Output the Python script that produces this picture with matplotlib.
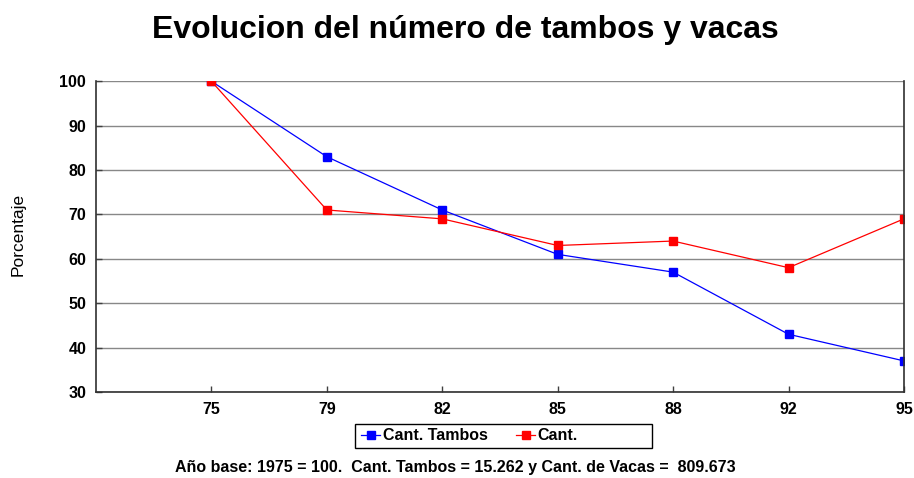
import matplotlib.pyplot as plt
from matplotlib.patches import Rectangle

plt.rcParams['font.family'] = ['Liberation Sans', 'DejaVu Sans']

# datos
anios = ['75', '79', '82', '85', '88', '92', '95']
tambos = [100, 83, 71, 61, 57, 43, 37]
vacas = [100, 71, 69, 63, 64, 58, 69]

fig = plt.figure(figsize=(9.14, 4.78), dpi=100)
ax = fig.add_axes([0.105, 0.180, 0.884, 0.650])

x = list(range(1, len(anios) + 1))
ax.plot(x, tambos, color='#0000ff', lw=0.9, marker='s', ms=6, label='Cant. Tambos')
ax.plot(x, vacas, color='#ff0000', lw=0.9, marker='s', ms=6, label='Cant.')

ax.set_xlim(0, len(anios))
ax.set_ylim(30, 100)
ax.set_xticks(x)
ax.set_xticklabels(anios, fontweight='bold', fontsize=11.5)
ax.set_yticks(range(30, 101, 10))
ax.set_yticklabels([str(v) for v in range(30, 101, 10)], fontweight='bold', fontsize=11.5)
ax.tick_params(direction='in', length=4, width=1, color='#404040', pad=7)
ax.grid(axis='y', color='#888888', lw=1)
ax.set_axisbelow(True)
ax.spines['top'].set_visible(False)
for s in ['left', 'bottom', 'right']:
    ax.spines[s].set_color('#303030')
    ax.spines[s].set_linewidth(1.2)

fig.text(0.02, 0.51, 'Porcentaje', rotation=90, ha='center', va='center',
         fontsize=12.5, family=['Liberation Sans Narrow', 'Liberation Sans', 'DejaVu Sans'])

fig.text(0.509, 0.937, 'Evolucion del número de tambos y vacas', ha='center', va='center',
         fontsize=23, fontweight='bold')

# leyenda sin marco + marco propio (la caja del original es más ancha)
leg = fig.legend(*ax.get_legend_handles_labels(), loc='center left',
                 bbox_to_anchor=(0.395, 0.088), ncol=2, frameon=False,
                 handlelength=1.2, handletextpad=0.15, columnspacing=1.8, borderpad=0,
                 borderaxespad=0, prop={'weight': 'bold', 'size': 11.5})
fig.patches.append(Rectangle((0.3884, 0.0628), 0.325, 0.0502, transform=fig.transFigure,
                             fill=False, edgecolor='black', lw=1))

fig.text(0.498, 0.023, 'Año base: 1975 = 100.  Cant. Tambos = 15.262 y Cant. de Vacas =  809.673',
         ha='center', va='center', fontsize=11.5, fontweight='bold')

fig.savefig('out.png', dpi=100)
